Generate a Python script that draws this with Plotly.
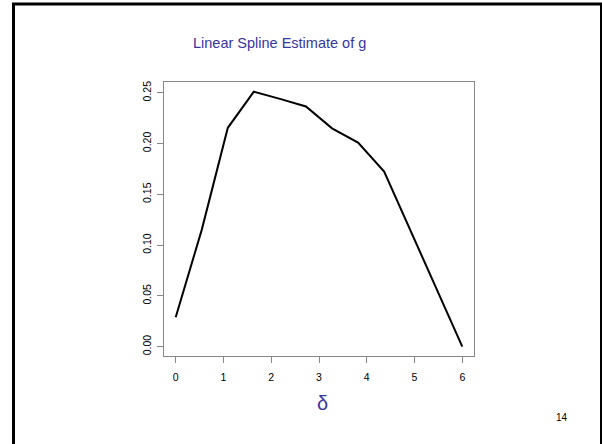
import plotly.graph_objects as go

# Data
delta = [0.0, 0.545, 1.091, 1.636, 2.182, 2.727, 3.273, 3.818, 4.364, 4.909, 5.455, 6.0]
g_hat = [0.029, 0.115, 0.2155, 0.251, 0.244, 0.2365, 0.215, 0.201, 0.1725, 0.115, 0.057, 0.0]
x_ticks = [0, 1, 2, 3, 4, 5, 6]
y_ticks = [0.00, 0.05, 0.10, 0.15, 0.20, 0.25]
y_tick_labels = ["0.00", "0.05", "0.10", "0.15", "0.20", "0.25"]

W, H = 602, 444
L, R, T, B = 164, 474, 82, 356  # plot area in pixels


def px(x):
    return (x - L) / (R - L)


def py(y):
    return (B - y) / (B - T)


fig = go.Figure()
fig.add_trace(go.Scatter(x=delta, y=g_hat, mode="lines",
                         line=dict(color="black", width=2), hoverinfo="skip"))

axis_common = dict(showline=True, linecolor="#888888", linewidth=1, mirror=True,
                   ticks="outside", ticklen=6, tickcolor="#888888", tickwidth=1,
                   showgrid=False, zeroline=False,
                   tickfont=dict(family="Liberation Sans, Arial", size=10.5, color="black"))

fig.update_layout(
    width=W, height=H,
    margin=dict(l=L, r=W - R, t=T, b=H - B),
    paper_bgcolor="white", plot_bgcolor="white",
    showlegend=False,
    xaxis=dict(range=[-0.245, 6.245], tickvals=x_ticks, ticklabelstandoff=5, **axis_common),
    yaxis=dict(range=[-0.0092, 0.2606], tickvals=y_ticks, ticktext=y_tick_labels,
               tickangle=-90, ticklabelstandoff=2, **axis_common),
    annotations=[
        dict(text="Linear Spline Estimate of g", x=px(279), y=py(43), xref="paper", yref="paper",
             showarrow=False, font=dict(family="Liberation Sans, Arial", size=14.5, color="#3636a0"),
             xanchor="center", yanchor="middle"),
        dict(text="δ", x=px(322), y=py(403), xref="paper", yref="paper",
             showarrow=False, font=dict(family="Liberation Sans, Arial", size=20, color="#3636a0"),
             xanchor="center", yanchor="middle"),
        dict(text="14", x=px(562), y=py(417), xref="paper", yref="paper",
             showarrow=False, font=dict(family="Liberation Sans, Arial", size=10, color="black"),
             xanchor="center", yanchor="middle"),
    ],
    shapes=[
        dict(type="rect", xref="paper", yref="paper",
             x0=px(13.5), x1=px(601.5), y0=py(4), y1=py(470),
             line=dict(color="black", width=3), fillcolor="rgba(0,0,0,0)", layer="above"),
    ],
)

fig.write_html("out.html")
